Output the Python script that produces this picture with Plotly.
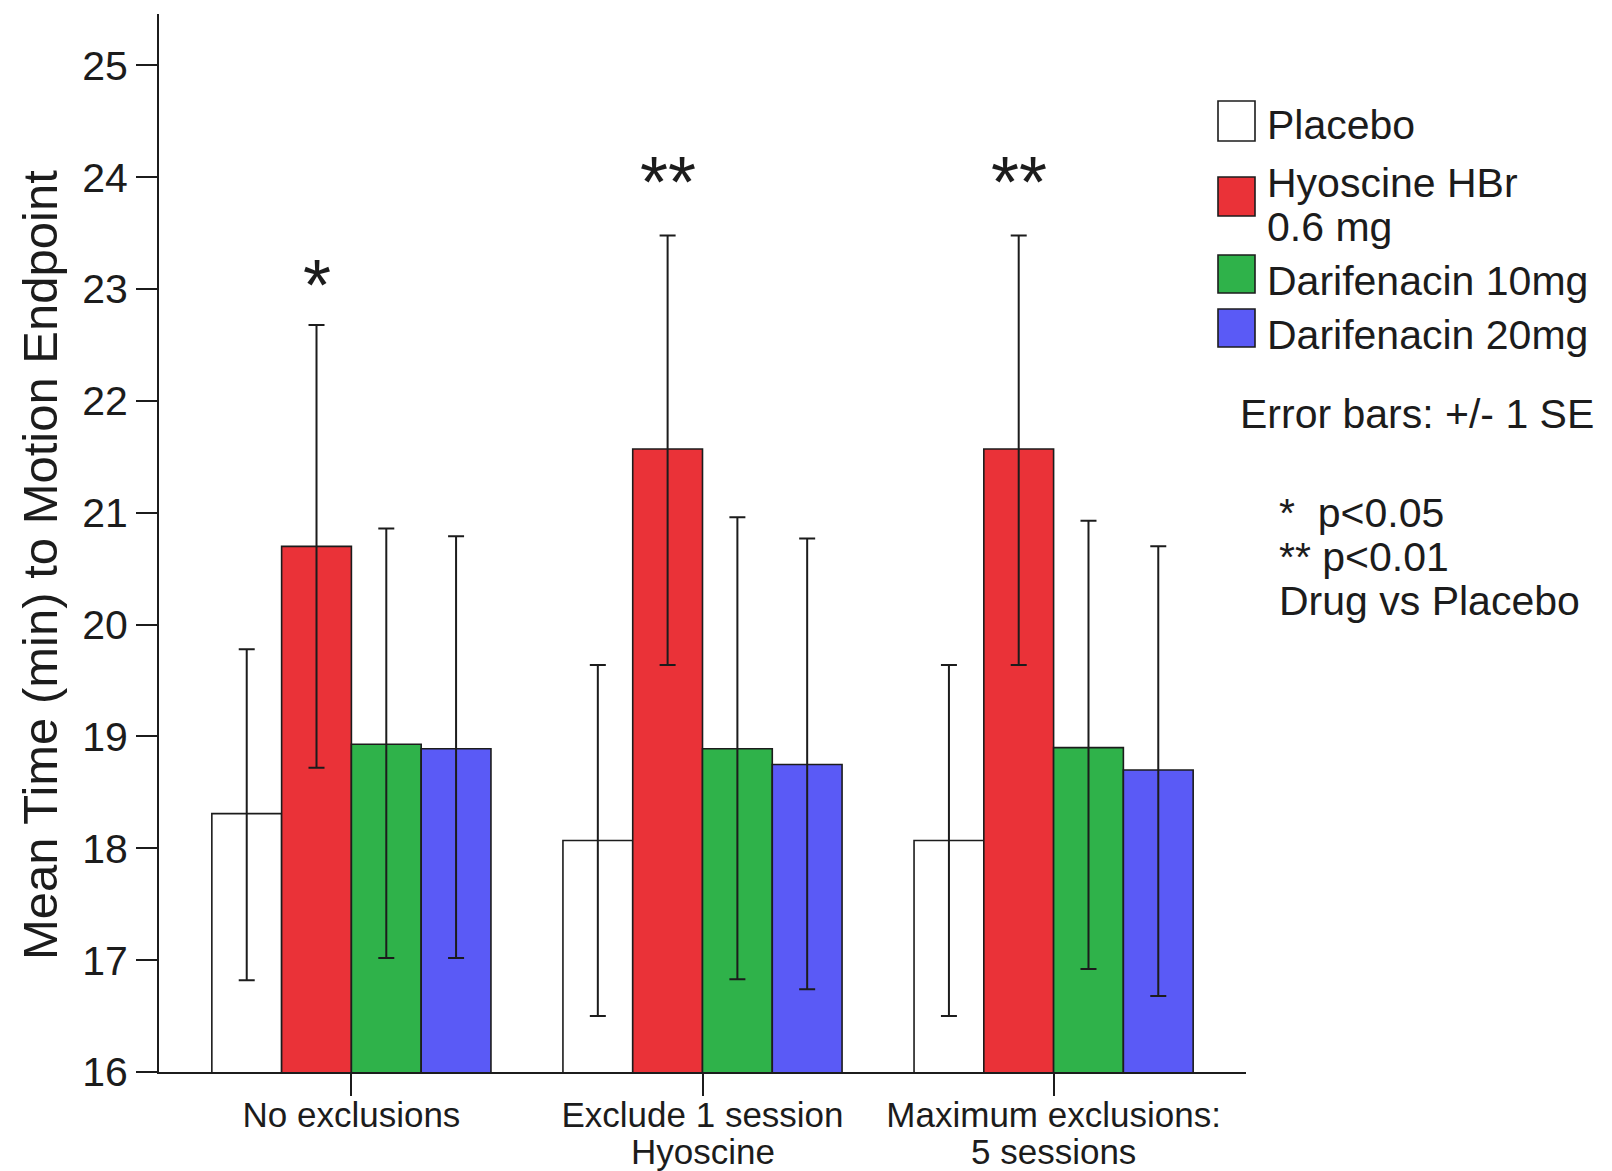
import plotly.graph_objects as go

# ---------------- data ----------------
categories = ["No exclusions", "Exclude 1 session Hyoscine", "Maximum exclusions: 5 sessions"]
cat_line1 = ["No exclusions", "Exclude 1 session", "Maximum exclusions:"]
cat_line2 = ["", "Hyoscine", "5 sessions"]

series_names = ["Placebo", "Hyoscine HBr 0.6 mg", "Darifenacin 10mg", "Darifenacin 20mg"]
legend_lines = [["Placebo"], ["Hyoscine HBr", "0.6 mg"], ["Darifenacin 10mg"], ["Darifenacin 20mg"]]
series_colors = ["#ffffff", "#ea3238", "#2fb24a", "#5a5af6"]

placebo = [18.31, 18.07, 18.07]
placebo_hi = [19.78, 19.64, 19.64]
placebo_lo = [16.82, 16.50, 16.50]

hyoscine = [20.70, 21.57, 21.57]
hyoscine_hi = [22.68, 23.48, 23.48]
hyoscine_lo = [18.72, 19.64, 19.64]

dar10 = [18.93, 18.89, 18.90]
dar10_hi = [20.86, 20.96, 20.93]
dar10_lo = [17.02, 16.83, 16.92]

dar20 = [18.89, 18.75, 18.70]
dar20_hi = [20.79, 20.77, 20.70]
dar20_lo = [17.02, 16.74, 16.68]

sig_labels = ["*", "**", "**"]
sig_label_y = [23.13, 24.05, 24.05]

y_ticks = [16, 17, 18, 19, 20, 21, 22, 23, 24, 25]
y_title = "Mean Time (min) to Motion Endpoint"

means = [placebo, hyoscine, dar10, dar20]
highs = [placebo_hi, hyoscine_hi, dar10_hi, dar20_hi]
lows = [placebo_lo, hyoscine_lo, dar10_lo, dar20_lo]

# ---------------- layout constants ----------------
# page body has an 8px margin (top/left); figure sized to reach the window's edges
BODY = 8
W, H = 1612 - BODY, 1171 - BODY
# plot area in window pixels
SX0, SX1, SY0, SY1 = 159, 1246, 14, 1072
L, T = SX0 - BODY, SY0 - BODY
PW, PH = SX1 - SX0, SY1 - SY0
R, B = W - L - PW, H - T - PH
FONT = "Arial, Liberation Sans, sans-serif"
INK = "#1c1c1c"
BARGAP = 0.205


def px_x(px):
    return (px - SX0) / PW


def px_y(py):
    return (SY1 - py) / PH


fig = go.Figure()
for name, vals, hi, lo, col in zip(series_names, means, highs, lows, series_colors):
    fig.add_trace(go.Bar(
        x=categories, y=vals, name=name,
        marker=dict(color=col, line=dict(color=INK, width=1.6)),
        error_y=dict(type="data", symmetric=False,
                     array=[h - v for h, v in zip(hi, vals)],
                     arrayminus=[v - l for v, l in zip(vals, lo)],
                     color=INK, thickness=2, width=8),
        showlegend=False,
    ))

annotations = []
# significance stars over the hyoscine bars (2nd of 4 bars in each group)
n_series = len(series_names)
bar_w = (1 - BARGAP) / n_series
hyo_offset = -(1 - BARGAP) / 2 + bar_w * 1.5
for i, (lab, yv) in enumerate(zip(sig_labels, sig_label_y)):
    annotations.append(dict(x=i + hyo_offset, y=yv, xref="x", yref="y", text=lab,
                            showarrow=False, font=dict(size=72, color=INK, family=FONT),
                            yanchor="middle", yshift=-10))

# second lines of the category labels
for i, t in enumerate(cat_line2):
    if t:
        annotations.append(dict(x=i, y=0, xref="x", yref="paper", text=t, showarrow=False,
                                font=dict(size=35, color=INK, family=FONT),
                                yanchor="middle", yshift=-79))

# y axis title
annotations.append(dict(x=px_x(40), y=px_y(565), xref="paper", yref="paper", text=y_title,
                        textangle=-90, showarrow=False, xanchor="center", yanchor="middle",
                        font=dict(size=49, color=INK, family=FONT)))

# manual legend (large swatches)
sw_x0, sw_x1 = 1218, 1255
sw_y = [(101, 141), (177, 216), (255, 293), (309, 347)]
text_y = [[125], [183, 227], [281], [335]]
shapes = []
for (y0, y1), col, lines, tys in zip(sw_y, series_colors, legend_lines, text_y):
    shapes.append(dict(type="rect", xref="paper", yref="paper",
                       x0=px_x(sw_x0), x1=px_x(sw_x1), y0=px_y(y1), y1=px_y(y0),
                       fillcolor=col, line=dict(color=INK, width=1.6)))
    for ln, ty in zip(lines, tys):
        annotations.append(dict(x=px_x(1265), y=px_y(ty), xref="paper", yref="paper",
                                text=ln, showarrow=False, xanchor="left", yanchor="middle",
                                font=dict(size=41, color=INK, family=FONT)))

notes = [("Error bars: +/- 1 SE", 1238, 414),
         ("*  p<0.05", 1277, 513),
         ("** p<0.01", 1277, 557),
         ("Drug vs Placebo", 1277, 601)]
for t, x, y in notes:
    annotations.append(dict(x=px_x(x), y=px_y(y), xref="paper", yref="paper", text=t,
                            showarrow=False, xanchor="left", yanchor="middle",
                            font=dict(size=41, color=INK, family=FONT)))

fig.update_layout(
    width=W, height=H,
    margin=dict(l=L, r=R, t=T, b=B),
    paper_bgcolor="white", plot_bgcolor="white",
    barmode="group", bargap=BARGAP, bargroupgap=0,
    font=dict(family=FONT, color=INK),
    annotations=annotations, shapes=shapes,
    showlegend=False,
)
fig.update_xaxes(
    type="category", range=[-0.548, 2.548],
    tickmode="array", tickvals=categories, ticktext=cat_line1,
    ticks="outside", ticklen=22, tickwidth=2, tickcolor=INK,
    ticklabelstandoff=-11,
    showline=True, linewidth=2, linecolor=INK, showgrid=False, zeroline=False,
    tickfont=dict(size=35, color=INK, family=FONT),
)
fig.update_yaxes(
    range=[16, 25.46], tickmode="array", tickvals=y_ticks,
    ticks="outside", ticklen=21, tickwidth=2, tickcolor=INK,
    showline=True, linewidth=2, linecolor=INK, showgrid=False, zeroline=False,
    tickfont=dict(size=41, color=INK, family=FONT),
)

fig.write_html("out.html")
